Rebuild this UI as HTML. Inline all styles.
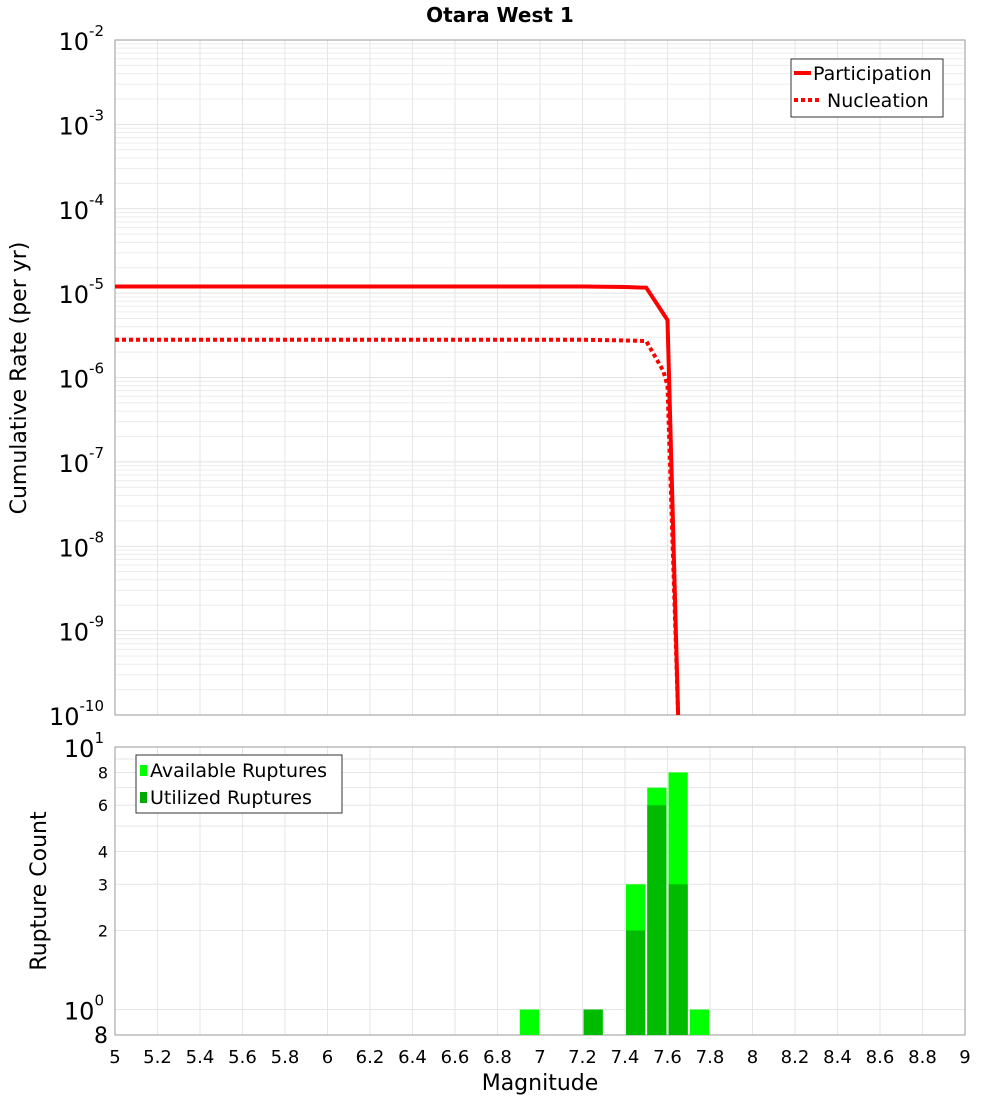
<!DOCTYPE html>
<html><head><meta charset="utf-8"><style>
body{margin:0;background:#fff;font-family:"Liberation Sans","DejaVu Sans",sans-serif;}
svg text{font-family:"DejaVu Sans","Liberation Sans",sans-serif;}
</style></head><body>
<svg id="c" width="1000" height="1100" xmlns="http://www.w3.org/2000/svg">
<text x="500" y="22" text-anchor="middle" font-size="20" font-weight="bold">Otara West 1</text>
<g id="topg"></g><g id="botg"></g>
</svg>
<script>
const mags=[5,5.5,6,6.5,7,7.2,7.4,7.5,7.6,7.65];
const partRate=[1.2e-5,1.2e-5,1.2e-5,1.2e-5,1.2e-5,1.2e-5,1.18e-5,1.16e-5,4.8e-6,1e-10];
const nuclMags=[5,5.5,6,6.5,7,7.2,7.4,7.5,7.58,7.6,7.65];
const nuclRate=[2.8e-6,2.8e-6,2.8e-6,2.8e-6,2.8e-6,2.8e-6,2.75e-6,2.7e-6,1.2e-6,8e-7,1e-10];
const binMags=[6.95,7.25,7.45,7.55,7.65,7.75];
const available=[1,1,3,7,8,1];
const utilized=[0,1,2,6,3,0];
const xTicks=[5,5.2,5.4,5.6,5.8,6,6.2,6.4,6.6,6.8,7,7.2,7.4,7.6,7.8,8,8.2,8.4,8.6,8.8,9];
const topDecades=[-2,-3,-4,-5,-6,-7,-8,-9,-10];
const botTicks=[2,3,4,6,8];
const NS='http://www.w3.org/2000/svg';
const L=115,R=965,T1=40,B1=715,T2=747,B2=1035;
const xs=m=>L+(m-5)/4*(R-L);
const y1=v=>T1+(-2-Math.log10(v))/8*(B1-T1);
const y2=v=>B2-(Math.log10(v)-Math.log10(0.8))/(1-Math.log10(0.8))*(B2-T2);
function el(p,t,a){const e=document.createElementNS(NS,t);for(const k in a)e.setAttribute(k,a[k]);p.appendChild(e);return e;}
const gTop=document.getElementById('topg'),gBot=document.getElementById('botg');
for(let d=-10;d<-2;d++)for(let k=1;k<10;k++){const y=y1(k*Math.pow(10,d));
 const g=el(gTop,'line',{x1:L,x2:R,y1:y,y2:y,stroke:k==1?'#e2e2e2':'#ececec','stroke-width':1});
 
 }
xTicks.forEach(m=>{[[gTop,T1,B1],[gBot,T2,B2]].forEach(([p,a,b])=>{const g=el(p,'line',{x1:xs(m),x2:xs(m),y1:a,y2:b,stroke:'#e6e6e6'});
 
 });});
[1,2,3,4,5,6,7,8,9,10].forEach(v=>{const g=el(gBot,'line',{x1:L,x2:R,y1:y2(v),y2:y2(v),stroke:'#e6e6e6'});
 
 });
[[T1,B1,gTop],[T2,B2,gBot]].forEach(([a,b,p])=>{const f=el(p,'rect',{x:L,y:a,width:R-L,height:b-a,fill:'none',stroke:'#999'});
 
 });
topDecades.forEach(d=>{const y=y1(Math.pow(10,d));const t=el(gTop,'text',{x:104,y:y+10,'text-anchor':'end','font-size':24});
 t.innerHTML='10<tspan dy="-14" font-size="15">'+d+'</tspan>';
 
 });
let yt=el(gTop,'text',{x:26,y:378,'text-anchor':'middle','font-size':22,transform:'rotate(-90 26 378)'});yt.textContent='Cumulative Rate (per yr)';


let p=el(gTop,'polyline',{points:mags.map((m,i)=>xs(m)+','+y1(partRate[i])).join(' '),fill:'none',stroke:'#ff0000','stroke-width':4});


let n=el(gTop,'polyline',{points:nuclMags.map((m,i)=>xs(m)+','+y1(nuclRate[i])).join(' '),fill:'none',stroke:'#ff0000','stroke-width':4,'stroke-dasharray':'4,3'});


let lg=el(gTop,'g',{});


el(lg,'rect',{x:791,y:59,width:152,height:58,fill:'#fff',stroke:'#333'});
el(lg,'line',{x1:794,x2:811,y1:73,y2:73,stroke:'#f00','stroke-width':4});
el(lg,'line',{x1:794,x2:822,y1:100,y2:100,stroke:'#f00','stroke-width':4,'stroke-dasharray':'4,3'});
let t1=el(lg,'text',{x:813,y:80,'font-size':19});t1.textContent='Participation';
let t2=el(lg,'text',{x:827,y:107,'font-size':19});t2.textContent='Nucleation';
const bw=(R-L)/40;
binMags.forEach((m,i)=>{const x=xs(m)-bw/2+1;
 let a=el(gBot,'rect',{x:x,y:y2(available[i]),width:bw-2,height:B2-y2(available[i]),fill:'#00ff00'});
 
 
 if(utilized[i]>0){let u=el(gBot,'rect',{x:x,y:y2(utilized[i]),width:bw-2,height:B2-y2(utilized[i]),fill:'#00bb00'});
 
 }});
[[10,'1'],[1,'0']].forEach(([v,e])=>{const t=el(gBot,'text',{x:104,y:y2(v)+10,'text-anchor':'end','font-size':24});
 t.innerHTML='10<tspan dy="-14" font-size="15">'+e+'</tspan>';
 
 });
botTicks.forEach(v=>{const t=el(gBot,'text',{x:108,y:y2(v)+6,'text-anchor':'end','font-size':16});t.textContent=v;
 
 });
let e8=el(gBot,'text',{x:108,y:1043,'text-anchor':'end','font-size':22});e8.textContent='8';


let yt2=el(gBot,'text',{x:46,y:891,'text-anchor':'middle','font-size':22,transform:'rotate(-90 46 891)'});yt2.textContent='Rupture Count';


xTicks.forEach(m=>{const t=el(gBot,'text',{x:xs(m),y:1063,'text-anchor':'middle','font-size':18});t.textContent=String(m);
 
 });
let xt=el(gBot,'text',{x:540,y:1090,'text-anchor':'middle','font-size':22});xt.textContent='Magnitude';


let lg2=el(gBot,'g',{});


el(lg2,'rect',{x:136,y:755,width:206,height:58,fill:'#fff',stroke:'#333'});
el(lg2,'rect',{x:140,y:765,width:7,height:11,fill:'#00ff00'});
el(lg2,'rect',{x:140,y:792,width:7,height:11,fill:'#00aa00'});
let b1=el(lg2,'text',{x:150,y:777,'font-size':19});b1.textContent='Available Ruptures';
let b2=el(lg2,'text',{x:150,y:804,'font-size':19});b2.textContent='Utilized Ruptures';
</script>
</body></html>
